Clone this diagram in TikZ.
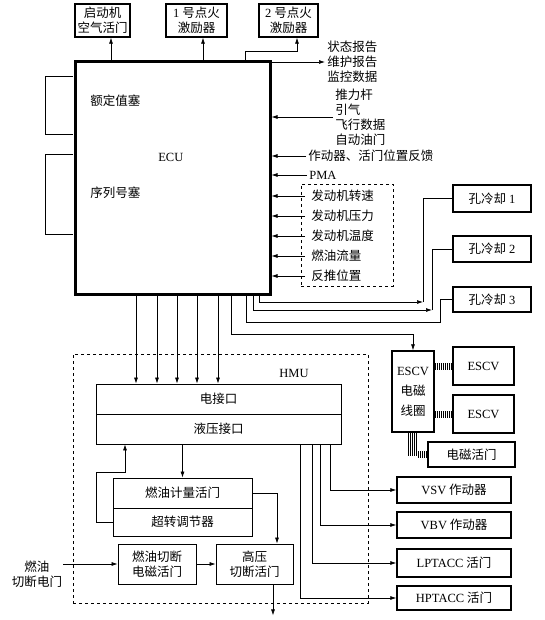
\documentclass[tikz,border=0pt]{standalone}
\usepackage{fontspec}
\setmainfont{Liberation Serif}
\newfontfamily\cjk{Noto Sans CJK SC}
\newcommand\lat[1]{{\rmfamily #1}}
\usetikzlibrary{arrows.meta, positioning, calc}

\begin{document}
\begin{tikzpicture}[x=1pt, y=-1pt, >={Latex[length=6pt,width=4pt]}, line width=0.7pt,
    font=\cjk\fontsize{12.5}{15}\selectfont,
    box/.style={draw, line width=1.3pt, inner sep=1pt, align=center},
    thinbox/.style={draw, line width=0.8pt, inner sep=1pt, align=center},
    lbl/.style={inner sep=2pt, align=left, anchor=west},
    link/.style={line width=7pt, dash pattern=on 0.7pt off 1.3pt}]
  \useasboundingbox (0,0) rectangle (545,620);

  % ECU and its outputs on top
  \node[draw, line width=3pt, minimum width=195, minimum height=232] (ecu) at (172.5,178) {};
  \node[anchor=west, inner sep=0pt] (ecutxt) at (158,157) {\lat{ECU}};
  \node[anchor=west, inner sep=0pt] (rating) at (90,101) {额定值塞};
  \node[anchor=west, inner sep=0pt] (serial) at (90,193) {序列号塞};
  \draw[line width=1pt] (73,77) -| (45,135) -- (73,135);
  \draw[line width=1pt] (73,155) -| (45,234) -- (73,234);

  \node[box, minimum width=55, minimum height=33] (starter) at (102.5,20.5) {启动机\\空气活门};
  \node[box, minimum width=61, minimum height=33] (ign1) at (196.5,20.5) {\lat{1} 号点火\\激励器};
  \node[box, minimum width=59, minimum height=33] (ign2) at (288.5,20.5) {\lat{2} 号点火\\激励器};
  \draw[->] (ecu.north -| 111,0) -- (starter.south -| 111,0);
  \draw[->] (ecu.north -| 203,0) -- (ign1.south -| 203,0);
  \draw[->] (ecu.north -| 245,0) -- (245,51) -| (ign2.south -| 297,0);

  % signals on the right side
  \node[lbl] (report) at (325,62) {状态报告\\维护报告\\监控数据};
  \draw[->] (ecu.east |- report.west) -- (report.west);
  \node[lbl] (thrust) at (333,117) {推力杆\\引气\\飞行数据\\自动油门};
  \draw[->] (thrust.west) -- (ecu.east |- thrust.west);
  \node[lbl] (fb) at (306,156) {作动器、活门位置反馈};
  \draw[->] (fb.west) -- (ecu.east |- fb.west);
  \node[lbl] (pma) at (307,175) {\lat{PMA}};
  \draw[->] (pma.west) -- (ecu.east |- pma.west);

  \node[draw, dashed, minimum width=92, minimum height=102] (sensors) at (347,235) {};
  \foreach \t [count=\i] in {发动机转速,发动机压力,发动机温度,燃油流量,反推位置} {
    \node[lbl] (s\i) at (309,176+20*\i) {\t};
    \draw[->] ([xshift=-4pt]s\i.west) -- (ecu.east |- s\i.west);
  }

  % hole cooling
  \node[box, minimum width=78, minimum height=27] (cool1) at (492,198.5) {孔冷却 \lat{1}};
  \node[box, minimum width=78, minimum height=26] (cool2) at (492,249) {孔冷却 \lat{2}};
  \node[box, minimum width=78, minimum height=25] (cool3) at (492,299.5) {孔冷却 \lat{3}};
  \coordinate (k1) at (423,302);
  \coordinate (k2) at (432,310);
  \coordinate (k3) at (440,322);
  \draw[->] (ecu.south -| 259,0) |- (k1);
  \draw (k1) |- (cool1.west);
  \draw[->] (ecu.south -| 253,0) |- (k2);
  \draw (k2) |- (cool2.west);
  \draw (ecu.south -| 246,0) |- (k3) |- (cool3.west);

  % ESCV
  \node[box, minimum width=42, minimum height=81, font=\cjk\fontsize{12.5}{20}\selectfont] (coil) at (413,391.5) {\lat{ESCV}\\电磁\\线圈};
  \node[box, minimum width=61, minimum height=38] (escv1) at (483.5,366) {\lat{ESCV}};
  \node[box, minimum width=61, minimum height=38] (escv2) at (483.5,414) {\lat{ESCV}};
  \node[box, minimum width=87, minimum height=25] (solv) at (471.5,454.5) {电磁活门};
  \draw[->] (ecu.south -| 231,0) -- (231,334) -| (coil.north);
  \draw[link] (coil.east |- escv1.west) -- (escv1.west);
  \draw[link] (coil.east |- escv2.west) -- (escv2.west);
  \foreach \d in {-5,-3,...,3}
    \draw[line width=0.5pt] ([xshift=\d pt]coil.south) -- ++(0,23);
  \draw[link] ([xshift=5pt]coil.south |- solv.west) -- (solv.west);

  % HMU
  \node[draw, dashed, line width=0.8pt, minimum width=295, minimum height=249] (hmu) at (220.5,478.5) {};
  \node (hmutxt) at (294,373) {\lat{HMU}};
  \node[thinbox, minimum width=245, minimum height=30] (elec) at (218.5,399) {电接口};
  \node[thinbox, minimum width=245, minimum height=30] (hydr) at (218.5,429) {液压接口};
  \foreach \x in {136,157,177,197,218}
    \draw[->] (ecu.south -| \x,0) -- (elec.north -| \x,0);

  \node[thinbox, minimum width=139, minimum height=30] (meter) at (182.5,493) {燃油计量活门};
  \node[thinbox, minimum width=139, minimum height=28] (over) at (182.5,522) {超转调节器};
  \draw[->] (hydr.south -| meter.north) -- (meter.north);
  \draw[->] (over.west) -- ++(-16,0) |- (125,472) -- (hydr.south -| 125,0);

  \node[thinbox, minimum width=78, minimum height=40] (cutoff) at (157,564) {燃油切断\\电磁活门};
  \node[thinbox, minimum width=77, minimum height=40] (hpsov) at (254.5,564) {高压\\切断活门};
  \node[inner sep=1pt, align=center] (fuelsw) at (37,574.5) {燃油\\切断电门};
  \draw[->] (fuelsw.east |- cutoff.west) -- (cutoff.west);
  \draw[->] (cutoff.east) -- (hpsov.west);
  \draw[->] (meter.east) -| ([xshift=22.5pt]hpsov.north);
  \draw[->] ([xshift=18.5pt]hpsov.south) -- ++(0,31);

  % actuators
  \node[box, minimum width=114, minimum height=26] (vsv) at (454,490) {\lat{VSV} 作动器};
  \node[box, minimum width=114, minimum height=26] (vbv) at (454,525) {\lat{VBV} 作动器};
  \node[box, minimum width=114, minimum height=28] (lpt) at (454,563) {\lat{LPTACC} 活门};
  \node[box, minimum width=114, minimum height=24] (hpt) at (454,598) {\lat{HPTACC} 活门};
  \draw[->] (hydr.south -| 330,0) |- (vsv.west);
  \draw[->] (hydr.south -| 320,0) |- (vbv.west);
  \draw[->] (hydr.south -| 312,0) |- (lpt.west);
  \draw[->] (hydr.south -| 300,0) |- (hpt.west);
\end{tikzpicture}
\end{document}
